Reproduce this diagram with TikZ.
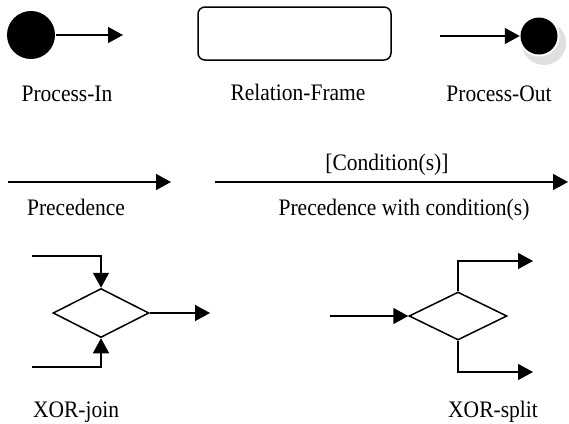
\documentclass[tikz,border=0pt]{standalone}
\usepackage{graphicx}
\usepackage{fontspec}
\setmainfont{Liberation Serif}
\usetikzlibrary{arrows.meta,shapes.geometric}
% labels are set slightly taller than the plain face
\newcommand{\lbltext}[1]{\scalebox{1}[1.1]{#1}}
\begin{document}
\begin{tikzpicture}[x=1pt,y=-1pt,
  line width=1.5pt,
  arr/.style={-{Triangle[length=15pt,width=16pt]}},
  lbl/.style={font=\fontsize{21.5}{26}\selectfont, inner sep=0pt, anchor=base},
  gate/.style={draw, diamond, inner sep=0pt, minimum width=96pt, minimum height=49pt}]
\useasboundingbox (0,0) rectangle (569,423);

% Process-In
\node[circle, fill=black, minimum size=48pt, inner sep=0pt] (pin) at (31,35) {};
\coordinate (pinEnd) at (123,35);
\draw[arr] (pin) -- (pinEnd);
\node[lbl] (pinLbl) at (67,101) {\lbltext{Process-In}};

% Relation-Frame
\node[draw, rounded corners=7pt, minimum width=193pt, minimum height=53pt, inner sep=0pt] (frame) at (294.5,33.5) {};
\node[lbl] (frameLbl) at (298,100) {\lbltext{Relation-Frame}};

% Process-Out with its grey base
\fill[gray!25] (544,43) circle (22pt);
\fill[white] (539,36) circle (20.5pt);
\node[circle, fill=black, minimum size=37pt, inner sep=0pt] (pout) at (539,36) {};
\coordinate (poutStart) at (440,36);
\draw[arr] (poutStart) -- (pout);
\node[lbl] (poutLbl) at (499,101) {\lbltext{Process-Out}};

% Precedence
\coordinate (pa) at (8,182);
\coordinate (pb) at (171,182);
\draw[arr] (pa) -- (pb);
\node[lbl] (precLbl) at (76,215.5) {\lbltext{Precedence}};

% Precedence with condition(s)
\coordinate (ca) at (215,182);
\coordinate (cb) at (568,182);
\draw[arr] (ca) -- (cb);
\node[lbl] (condLbl) at (387,170) {\lbltext{[Condition(s)]}};
\node[lbl] (pcondLbl) at (404,215.5) {\lbltext{Precedence with condition(s)}};

% XOR-join
\node[gate] (xj) at (101,313) {};
\coordinate (jTop) at (32,256);
\coordinate (jBot) at (32,367);
\coordinate (jOut) at (210,313);
\draw[arr] (jTop) -| (xj.north);
\draw[arr] (jBot) -| (xj.south);
\draw[arr] (xj.east) -- (jOut);
\node[lbl] (xjLbl) at (76,417) {\lbltext{XOR-join}};

% XOR-split
\node[gate, minimum width=98pt, minimum height=48pt] (xs) at (458,316) {};
\coordinate (sIn) at (330,316);
\coordinate (sOut1) at (533,261);
\coordinate (sOut2) at (533,372);
\draw[arr] (sIn) -- (xs.west);
\draw[arr] (xs.north) |- (sOut1);
\draw[arr] (xs.south) |- (sOut2);
\node[lbl] (xsLbl) at (493,417) {\lbltext{XOR-split}};
\end{tikzpicture}
\end{document}
